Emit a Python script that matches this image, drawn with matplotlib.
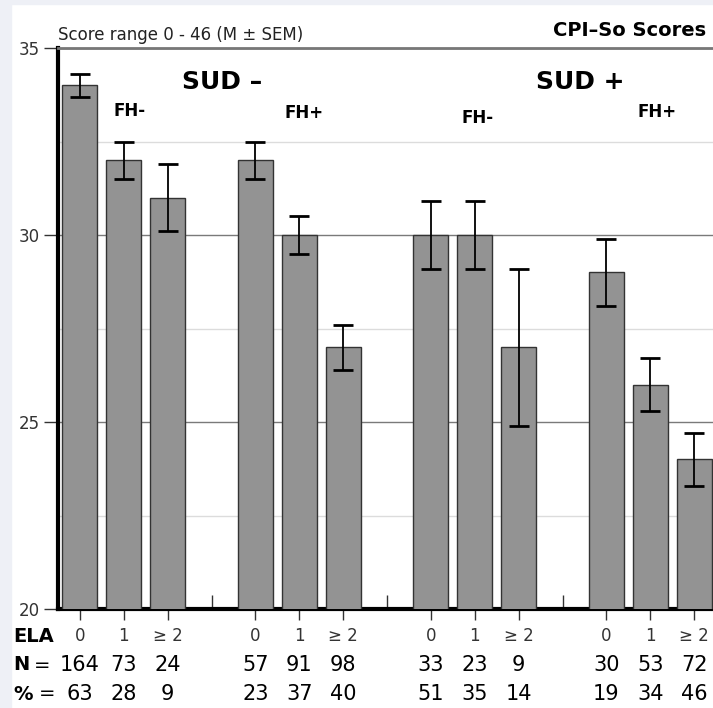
import numpy as np
import matplotlib
matplotlib.use("Agg")
import matplotlib.pyplot as plt
from matplotlib.transforms import blended_transform_factory
from matplotlib.patches import Rectangle

# data
groups = ["SUD- FH-", "SUD- FH+", "SUD+ FH-", "SUD+ FH+"]
ela_labels = ["0", "1", "\u2265 2"]
means = [34, 32, 31, 32, 30, 27, 30, 30, 27, 29, 26, 24]
sems = [0.3, 0.5, 0.9, 0.5, 0.5, 0.6, 0.9, 0.9, 2.1, 0.9, 0.7, 0.7]
n_vals = ["164", "73", "24", "57", "91", "98", "33", "23", "9", "30", "53", "72"]
pct_vals = ["63", "28", "9", "23", "37", "40", "51", "35", "14", "19", "34", "46"]

# bar positions: 3 bars per group, one empty slot between groups
pos = np.array([g * 4 + k for g in range(len(groups)) for k in range(3)])
gaps = [3, 7, 11]

fig = plt.figure(figsize=(7.13, 7.08), dpi=100)
fig.patch.set_facecolor("white")
# light strips at the left and top edge
fig.patches.append(Rectangle((0, 0), 11 / 713, 1, transform=fig.transFigure,
                             color="#eef0f6", zorder=0))
fig.patches.append(Rectangle((0, 1 - 4 / 708), 1, 4 / 708, transform=fig.transFigure,
                             color="#eef0f6", zorder=0))

ax = fig.add_axes([58 / 713, 1 - 609 / 708, 1 - 58 / 713, (609 - 48) / 708])

ax.bar(pos, means, width=0.8, color="#939393", edgecolor="#333333", linewidth=1.0, zorder=3)
ax.errorbar(pos, means, yerr=sems, fmt="none", ecolor="black", elinewidth=1.3,
            capsize=7, capthick=2, zorder=4)

ax.set_xlim(-0.5, 14.43)
ax.set_ylim(20, 35)

ax.set_yticks([20, 25, 30, 35])
ax.set_yticks([22.5, 27.5, 32.5], minor=True)
ax.tick_params(axis="y", which="major", direction="out", length=10, width=1, pad=3,
               labelsize=12, labelcolor="#333333", color="#333333")
ax.tick_params(axis="y", which="minor", length=0)
ax.grid(axis="y", which="major", color="#7a7a7a", linewidth=1.0)
ax.grid(axis="y", which="minor", color="#dcdcdc", linewidth=1.0)
ax.set_axisbelow(True)

ax.set_xticks(pos)
ax.set_xticklabels([])
ax.set_xticks(gaps, minor=True)
ax.tick_params(axis="x", which="major", direction="out", length=8, width=1, color="#333333")
ax.tick_params(axis="x", which="minor", direction="in", length=10, width=1, color="#333333")

for s in ["left", "bottom"]:
    ax.spines[s].set_linewidth(3)
    ax.spines[s].set_color("black")
ax.spines["right"].set_visible(False)
ax.spines["top"].set_color("#777777")
ax.spines["top"].set_linewidth(2)

# titles
fig.text(58 / 713, 1 - 35 / 708, "Score range 0 - 46 (M \u00b1 SEM)", fontsize=12,
         color="#222222", ha="left", va="center")
fig.text(706 / 713, 1 - 30 / 708, "CPI\u2013So Scores", fontsize=14, fontweight="bold",
         ha="right", va="center")

# group annotations
ax.text(3.24, 34.09, "SUD \u2013", fontsize=18, fontweight="bold", ha="center", va="center")
ax.text(11.4, 34.09, "SUD +", fontsize=18, fontweight="bold", ha="center", va="center")
fh_x = [1.12, 5.1, 9.07, 13.16]
fh_y = [33.32, 33.26, 33.13, 33.29]
fh_txt = ["FH-", "FH+", "FH-", "FH+"]
for x, y, t in zip(fh_x, fh_y, fh_txt):
    ax.text(x, y, t, fontsize=12, fontweight="bold", ha="center", va="center")

# table under the axis
tr = blended_transform_factory(ax.transData, fig.transFigure)
y_ela, y_n, y_p = 1 - 636 / 708, 1 - 665 / 708, 1 - 694 / 708
for i, p in enumerate(pos):
    ax.text(p, y_ela, ela_labels[i % 3], transform=tr, fontsize=12, color="#333333",
            ha="center", va="center", clip_on=False)
    ax.text(p, y_n, n_vals[i], transform=tr, fontsize=15, ha="center", va="center", clip_on=False)
    ax.text(p, y_p, pct_vals[i], transform=tr, fontsize=15, ha="center", va="center", clip_on=False)

fig.text(13 / 713, y_ela, "ELA", fontsize=14, fontweight="bold", ha="left", va="center")
fig.text(13 / 713, y_n, "N", fontsize=14, fontweight="bold", ha="left", va="center")
fig.text(42 / 713, y_n, "=", fontsize=14, ha="center", va="center")
fig.text(13 / 713, y_p, "%", fontsize=14, fontweight="bold", ha="left", va="center")
fig.text(47 / 713, y_p, "=", fontsize=14, ha="center", va="center")

fig.savefig("out.png", dpi=100)
